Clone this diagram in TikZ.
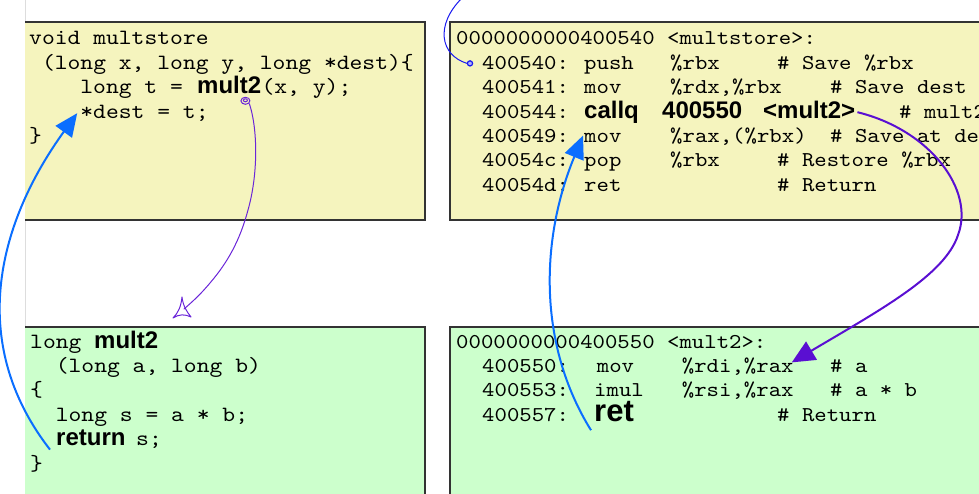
\documentclass[tikz,border=0pt]{standalone}
\usepackage{fontspec}
\setmainfont{Liberation Sans}
\newfontfamily\codefont{lmmono10-regular}[Extension=.otf, FakeStretch=1.12]
\newfontfamily\kwfont{Liberation Sans}
\usetikzlibrary{arrows.meta}

\definecolor{srcyellow}{HTML}{F5F4BE}
\definecolor{srcgreen}{HTML}{CCFFCC}
\definecolor{edgegray}{HTML}{333333}
\definecolor{pagegray}{HTML}{DDDDDD}
\definecolor{retblue}{HTML}{0A6EFF}
\definecolor{callviolet}{HTML}{5A0FD2}
\definecolor{penviolet}{HTML}{6A25D8}
\definecolor{penblue}{HTML}{1A1AF0}

\begin{document}
\begin{tikzpicture}[x=1pt,y=-1pt,
  ctext/.style={anchor=base west, inner sep=0pt, font=\codefont\fontsize{21.8}{24}\selectfont},
  atext/.style={anchor=base west, inner sep=0pt, font=\codefont\fontsize{21.1}{24}\selectfont},
  kw/.style={anchor=base west, inner sep=0pt, font=\kwfont\bfseries\fontsize{24}{24}\selectfont},
  bigkw/.style={anchor=base west, inner sep=0pt, text height=16pt, font=\kwfont\bfseries\fontsize{31}{31}\selectfont},
  boxedge/.style={draw=edgegray, line width=1.5pt},
  retarrow/.style={draw=retblue, line width=2pt, -{Triangle[length=23pt,width=20pt]}},
  callarrow/.style={draw=callviolet, line width=2pt, -{Triangle[length=23pt,width=21pt]}},
  penline/.style={line width=1pt, line cap=round, line join=round}]
\useasboundingbox (0,0) rectangle (979,494);
\clip (0,0) rectangle (979,494);

% page edge
\draw[pagegray, line width=1pt] (25.5,0) -- (25.5,494);

% C source of multstore
\fill[srcyellow] (25,22) rectangle (425,220);
\draw[boxedge] (25,22) -- (425,22) -- (425,220) -- (25,220);
% disassembly of multstore
\fill[srcyellow] (450,22) rectangle (990,220);
\draw[boxedge] (990,22) -- (450,22) -- (450,220) -- (990,220);
% C source of mult2
\fill[srcgreen] (25,327) rectangle (425,500);
\draw[boxedge] (25,327) -- (425,327) -- (425,500);
% disassembly of mult2
\fill[srcgreen] (450,327) rectangle (990,500);
\draw[boxedge] (990,327) -- (450,327) -- (450,500);

% ---- multstore (C)
\node[ctext] (tl1) at (29,45) {void multstore};
\node[ctext] (tl2) at (41.8,69.4) {(long x, long y, long *dest)\{};
\node[ctext] (tl3) at (80.2,93.8) {long t =};
\node[kw] (tlcall) at (197,93.8) {mult2};
\node[ctext] (tl3b) at (tlcall.base east) {(x, y);};
\node[ctext] (tl4) at (80.2,118.2) {*dest = t;};
\node[ctext] (tl5) at (29,142.6) {\}};

% ---- multstore (asm)
\node[atext] (tr1) at (456,45) {0000000000400540 <multstore>:};
\node[atext] (tr2a) at (482,69.4) {400540:};
\node[atext] at (584,69.4) {push};
\node[atext] at (670,69.4) {\%rbx};
\node[atext] at (777,69.4) {\# Save \%rbx};
\node[atext] (tr3a) at (482,93.8) {400541:};
\node[atext] at (584,93.8) {mov};
\node[atext] at (670,93.8) {\%rdx,\%rbx};
\node[atext] at (830,93.8) {\# Save dest};
\node[atext] (tr4a) at (482,118.2) {400544:};
\node[kw] (trcallq) at (584,118.2) {callq};
\node[kw] (traddr) at (662,118.2) {400550};
\node[kw] (trtarget) at (763,118.2) {<mult2>};
\node[atext] at (899,118.2) {\# mult2(x,y)};
\node[atext] (tr5a) at (482,142.6) {400549:};
\node[atext] (trmov) at (584,142.6) {mov};
\node[atext] at (670,142.6) {\%rax,(\%rbx)};
\node[atext] at (830,142.6) {\# Save at dest};
\node[atext] (tr6a) at (482,167) {40054c:};
\node[atext] at (584,167) {pop};
\node[atext] at (670,167) {\%rbx};
\node[atext] at (777,167) {\# Restore \%rbx};
\node[atext] (tr7a) at (482,191.4) {40054d:};
\node[atext] at (584,191.4) {ret};
\node[atext] at (777,191.4) {\# Return};

% ---- mult2 (C)
\node[ctext] (bl1) at (30,348) {long};
\node[kw] (blname) at (94,348) {mult2};
\node[ctext] (bl2) at (55.6,372.4) {(long a, long b)};
\node[ctext] (bl3) at (30,396.8) {\{};
\node[ctext] (bl4) at (55.6,421.2) {long s = a * b;};
\node[kw] (blret) at (56,445.6) {return};
\node[ctext] (bl5b) at (136,445.6) {s;};
\node[ctext] (bl6) at (30,470) {\}};

% ---- mult2 (asm)
\node[atext] (br1) at (456,348) {0000000000400550 <mult2>:};
\node[atext] (br2a) at (482,372.4) {400550:};
\node[atext] at (596.7,372.4) {mov};
\node[atext] (brrdi) at (681.7,372.4) {\%rdi,\%rax};
\node[atext] at (830,372.4) {\# a};
\node[atext] (br3a) at (482,396.8) {400553:};
\node[atext] at (594,396.8) {imul};
\node[atext] at (681.7,396.8) {\%rsi,\%rax};
\node[atext] at (830,396.8) {\# a * b};
\node[atext] (br4a) at (482,421.2) {400557:};
\node[bigkw] (brret) at (594,421.2) {ret};
\node[atext] at (777,421.2) {\# Return};

% ---- control transfers
\coordinate (retFrom) at ([shift={(-6,4)}]blret.base west);
\coordinate (retTo) at ([shift={(-3,-5)}]tl4.base west);
\draw[retarrow] (retFrom) .. controls (-35,340) and (0,220) .. (retTo);

\coordinate (ret2From) at ([shift={(-3,9)}]brret.base west);
\coordinate (ret2To) at ([shift={(-1,-7)}]trmov.base west);
\draw[retarrow] (ret2From) .. controls (538,345) and (540,240) .. (ret2To);

\coordinate (callFrom) at ([shift={(2,-6)}]trtarget.base east);
\coordinate (callTo) at ([shift={(-2,-10)}]brrdi.base east);
\draw[callarrow] (callFrom) .. controls (930,130) and (975,190) .. (958,235)
  .. controls (945,275) and (880,310) .. (callTo);

% pen stroke from the call of mult2 down to its source
\coordinate (penStart) at ([shift={(-16,7)}]tlcall.base east);
\coordinate (penTip) at (184,309);
\draw[penviolet, penline] (penStart) ellipse (4.5 and 3.5);
\draw[penviolet, penline] ([yshift=0.5]penStart) ellipse (2 and 1.5);
\draw[penviolet, penline] ([shift={(4,3)}]penStart) .. controls (258,130) and (258,175) .. (248,210)
  .. controls (240,240) and (228,262) .. (210,283)
  .. controls (200,295) and (192,302) .. (penTip);
\draw[penviolet, penline] (182,297) .. controls (181,307) and (178,313) .. (173,318)
  .. controls (179,314) and (185,314) .. (191,317)
  .. controls (187,312) and (183,306) .. cycle;

% pen stroke entering multstore's first instruction
\coordinate (penDot) at ([shift={(-12,-6)}]tr2a.base west);
\draw[penblue, penline] (462,-2) .. controls (435,25) and (440,55) .. ([xshift=-3]penDot);
\draw[penblue, line width=1.2pt, fill=penblue!35] (penDot) circle (2.6);
\end{tikzpicture}
\end{document}
